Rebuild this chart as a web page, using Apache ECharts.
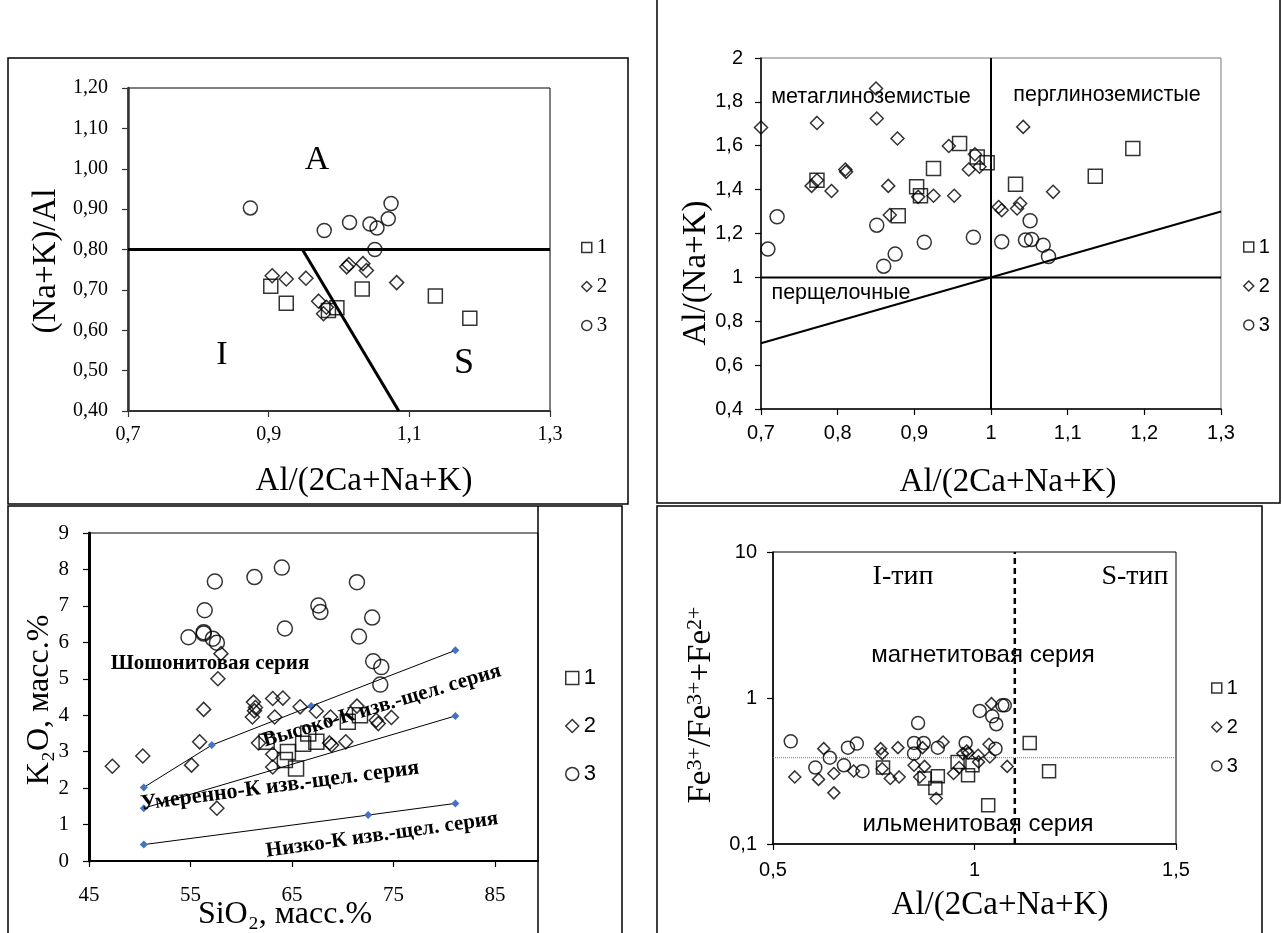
<!DOCTYPE html>
<html><head><meta charset="utf-8">
<script src="https://cdn.jsdelivr.net/npm/echarts@6/dist/echarts.min.js"></script>
<style>html,body{margin:0;padding:0;background:#fff}#c{width:1282px;height:933px}</style>
</head><body><div id="c"></div>
<script>
// ---------- Panel 1: (Na+K)/Al vs Al/(2Ca+Na+K) ----------
const p1Squares = [[0.903,0.709],[0.925,0.667],[0.985,0.649],[0.997,0.656],[1.033,0.702],[1.137,0.685],[1.186,0.630]];
const p1Diamonds = [[0.905,0.735],[0.925,0.727],[0.953,0.729],[1.011,0.757],[1.014,0.763],[1.034,0.765],[1.039,0.748],[1.082,0.718],[0.971,0.672],[0.978,0.641],[0.982,0.657]];
const p1Circles = [[0.874,0.903],[0.979,0.847],[1.015,0.867],[1.044,0.863],[1.054,0.853],[1.070,0.876],[1.074,0.914],[1.051,0.800]];
const p1LineH = [[0.7,0.8],[1.3,0.8]];
const p1LineD = [[0.948,0.8],[1.085,0.4]];
const p1XTicks = [0.7,0.9,1.1,1.3];

// ---------- Panel 2: Al/(Na+K) vs Al/(2Ca+Na+K) ----------
const p2Squares = [[0.773,1.443],[0.879,1.281],[0.903,1.413],[0.908,1.372],[0.925,1.496],[0.959,1.610],[0.982,1.549],[0.995,1.522],[1.032,1.425],[1.136,1.461],[1.185,1.587]];
const p2Diamonds = [[0.700,1.683],[0.773,1.704],[0.850,1.861],[0.851,1.724],[0.878,1.633],[0.766,1.417],[0.773,1.443],[0.792,1.394],[0.810,1.492],[0.811,1.481],[0.866,1.417],[0.868,1.284],[0.905,1.367],[0.925,1.372],[0.952,1.372],[0.945,1.599],[0.979,1.561],[0.971,1.492],[0.985,1.504],[1.042,1.686],[1.081,1.390],[1.010,1.321],[1.014,1.306],[1.034,1.314],[1.038,1.337]];
const p2Circles = [[0.721,1.276],[0.709,1.129],[0.851,1.238],[0.860,1.051],[0.875,1.106],[0.913,1.160],[0.977,1.183],[1.014,1.162],[1.051,1.258],[1.045,1.170],[1.053,1.173],[1.068,1.147],[1.075,1.095]];
const p2LineV = [[1,0.4],[1,2]];
const p2LineH = [[0.7,1],[1.3,1]];
const p2LineD = [[0.7,0.7],[1.3,1.3]];

// ---------- Panel 3: K2O vs SiO2 ----------
const p3Squares = [[62.5,3.27],[64.3,2.77],[64.6,2.99],[65.4,2.54],[66.1,3.22],[66.6,3.50],[67.4,3.27],[70.5,3.82],[71.7,4.00]];
const p3Diamonds = [[58.0,5.69],[57.7,5.00],[56.3,4.16],[55.9,3.27],[55.1,2.63],[50.3,2.88],[47.3,2.60],[57.6,1.45],[61.2,4.36],[61.4,4.21],[61.1,3.95],[61.3,4.12],[63.1,4.46],[64.1,4.47],[63.3,3.95],[65.8,4.23],[67.4,4.11],[61.7,3.24],[63.1,2.93],[63.1,2.58],[71.4,4.25],[73.3,3.86],[73.5,3.77],[74.8,3.94],[68.7,3.24],[68.9,3.18],[70.3,3.27],[68.8,3.95]];
const p3Circles = [[54.8,6.14],[56.3,6.28],[56.3,6.24],[56.4,6.88],[57.4,7.67],[57.2,6.10],[57.6,5.99],[61.3,7.79],[64.0,8.05],[64.3,6.38],[67.6,7.01],[67.8,6.83],[71.4,7.65],[72.9,6.68],[71.6,6.16],[73.0,5.48],[73.8,5.32],[73.7,4.84]];
const p3LineShosh = [[50.4,2.02],[57.1,3.18],[66.9,4.25],[81.1,5.78]];
const p3LineHighK = [[50.4,1.45],[81.1,3.98]];
const p3LineLowK = [[50.4,0.45],[72.5,1.26],[81.1,1.58]];
const p3XTicks = [45,55,65,75,85];

// ---------- Panel 4: Fe3+/(Fe3++Fe2+) vs Al/(2Ca+Na+K) ----------
const p4Squares = [[0.773,0.334],[0.876,0.281],[0.909,0.291],[0.903,0.242],[0.958,0.365],[0.984,0.296],[0.995,0.346],[1.034,0.184],[1.137,0.492],[1.185,0.315]];
const p4Diamonds = [[0.554,0.288],[0.626,0.450],[0.613,0.277],[0.651,0.304],[0.651,0.224],[0.700,0.316],[0.767,0.450],[0.771,0.416],[0.771,0.328],[0.791,0.281],[0.810,0.457],[0.813,0.288],[0.850,0.346],[0.864,0.288],[0.876,0.340],[0.871,0.457],[0.922,0.500],[0.905,0.205],[0.948,0.304],[0.962,0.334],[0.971,0.416],[0.981,0.434],[0.984,0.420],[1.009,0.405],[1.036,0.482],[1.038,0.394],[1.010,0.365],[1.042,0.915],[1.081,0.340]];
const p4Circles = [[0.544,0.505],[0.605,0.334],[0.641,0.390],[0.676,0.346],[0.686,0.457],[0.708,0.487],[0.722,0.315],[0.850,0.416],[0.850,0.492],[0.860,0.674],[0.874,0.492],[0.909,0.457],[0.978,0.492],[1.013,0.815],[1.044,0.749],[1.054,0.661],[1.069,0.891],[1.075,0.891],[1.052,0.450]];
const p4LineV = [[1.1,0.1],[1.1,10]];
const p4LineH = [[0.5,0.39],[1.5,0.39]];

const SERIF = "'Liberation Serif','Times New Roman',serif";
const SANS = "'Liberation Sans',Arial,sans-serif";
const fmt = v => String(+(+v).toFixed(2)).replace('.', ',');

function sc(name, gi, symbol, size, data) {
  return {type:'scatter', name, xAxisIndex:gi, yAxisIndex:gi, symbol, symbolSize:size, data,
    itemStyle:{color:'rgba(0,0,0,0)', borderColor:'#000', borderWidth:1.5}, z:4, silent:true};
}
function ln(gi, data, style, extra) {
  return Object.assign({type:'line', xAxisIndex:gi, yAxisIndex:gi, data, symbol:'none',
    lineStyle:style, z:3, silent:true}, extra || {});
}
function txt(text, x, y, size, family, opts) {
  opts = opts || {};
  const style = {text, fontSize:size, fontFamily:family, fontWeight:opts.bold ? 'bold' : 'normal', fill:'#000',
    textAlign:'center', textVerticalAlign:'middle', align:'center', verticalAlign:'middle'};
  if (opts.rich) style.rich = opts.rich;
  return {type:'text', x, y, rotation: opts.rot || 0, z:10, silent:true, style};
}
function frame(x, y, w, h, color, lw) {
  return {type:'rect', shape:{x, y, width:w, height:h}, z:0, silent:true,
    style:{fill:'none', stroke:color, lineWidth:lw}};
}
function axisCommon(lineColor, lineW, fontFam, fontSize, margin) {
  return {
    axisLine:{show:true, onZero:false, lineStyle:{color:lineColor, width:lineW}},
    axisTick:{show:true, inside:false, length:6, lineStyle:{color:lineColor, width:1.2}},
    axisLabel:{color:'#000', fontFamily:fontFam, fontSize, margin, formatter:fmt},
    splitLine:{show:false}
  };
}
function merge(a, b) {
  const o = Object.assign({}, a, b);
  for (const k of ['axisLine','axisTick','axisLabel']) if (a[k] && b[k]) o[k] = Object.assign({}, a[k], b[k]);
  return o;
}
function legend(prefix, left, top, gap, size, fam, fs) {
  return {
    orient:'vertical', left, top, itemGap:gap, itemWidth:size, itemHeight:size, selectedMode:false,
    data:[prefix+'1', prefix+'2', prefix+'3'],
    formatter: n => n.slice(-1),
    itemStyle:{color:'rgba(0,0,0,0)', borderColor:'#000', borderWidth:1.5},
    textStyle:{fontFamily:fam, fontSize:fs, color:'#000', padding:[0,0,0,0]}
  };
}
const supRich = {sup:{fontSize:22, fontFamily:SERIF, verticalAlign:'top', fill:'#000'}};

const option = {
  animation:false,
  backgroundColor:'#fff',
  grid:[
    {left:128, top:88, width:422, height:323, show:true, borderColor:'#000', borderWidth:1, backgroundColor:'transparent'},
    {left:761, top:58, width:460, height:351, show:true, borderColor:'#777', borderWidth:1, backgroundColor:'transparent'},
    {left:89, top:533, width:449, height:328, show:true, borderColor:'#000', borderWidth:1, backgroundColor:'transparent'},
    {left:773, top:552, width:403, height:292, show:true, borderColor:'#000', borderWidth:1, backgroundColor:'transparent'}
  ],
  xAxis:[
    merge(axisCommon('#333',2,SERIF,20,14), {gridIndex:0, type:'value', min:0.7, max:1.3,
      axisTick:{customValues:p1XTicks}, axisLabel:{customValues:p1XTicks, formatter:v=>(+v).toFixed(1).replace('.',',')}}),
    merge(axisCommon('#000',1.5,SANS,20,14), {gridIndex:1, type:'value', min:0.7, max:1.3, interval:0.1}),
    merge(axisCommon('#000',2,SERIF,21,24), {gridIndex:2, type:'value', min:45, max:89.24,
      axisTick:{customValues:p3XTicks}, axisLabel:{customValues:p3XTicks}}),
    merge(axisCommon('#000',1.5,SANS,20,16), {gridIndex:3, type:'value', min:0.5, max:1.5, interval:0.5})
  ],
  yAxis:[
    merge(axisCommon('#333',2.5,SERIF,20,20), {gridIndex:0, type:'value', min:0.4, max:1.2, interval:0.1,
      axisLabel:{formatter:v=>(+v).toFixed(2).replace('.',',')}}),
    merge(axisCommon('#000',1.5,SANS,20,18), {gridIndex:1, type:'value', min:0.4, max:2, interval:0.2}),
    merge(axisCommon('#000',3,SERIF,21,20), {gridIndex:2, type:'value', min:0, max:9, interval:1}),
    merge(axisCommon('#000',1.5,SANS,20,16), {gridIndex:3, type:'log', logBase:10, min:0.1, max:10})
  ],
  legend:[
    legend('a', 576, 232, 18, 10, SERIF, 21),
    legend('b', 1238, 232, 19, 10, SANS, 20),
    legend('c', 560, 662, 26, 13, SANS, 22),
    legend('d', 1206, 673, 19, 10, SANS, 20)
  ],
  series:[
    ln(0, p1LineH, {color:'#000', width:3}),
    ln(0, p1LineD, {color:'#000', width:3}),
    sc('a1',0,'rect',14,p1Squares), sc('a2',0,'diamond',14,p1Diamonds), sc('a3',0,'circle',14,p1Circles),

    ln(1, p2LineV, {color:'#000', width:2}),
    ln(1, p2LineH, {color:'#000', width:2}),
    ln(1, p2LineD, {color:'#000', width:2}),
    sc('b1',1,'rect',14,p2Squares), sc('b2',1,'diamond',13,p2Diamonds), sc('b3',1,'circle',14,p2Circles),

    ln(2, p3LineShosh, {color:'#000', width:1}, {symbol:'diamond', symbolSize:8, showSymbol:true, itemStyle:{color:'#4472C4'}}),
    ln(2, p3LineHighK, {color:'#000', width:1}, {symbol:'diamond', symbolSize:8, showSymbol:true, itemStyle:{color:'#4472C4'}}),
    ln(2, p3LineLowK, {color:'#000', width:1}, {symbol:'diamond', symbolSize:8, showSymbol:true, itemStyle:{color:'#4472C4'}}),
    sc('c1',2,'rect',15,p3Squares), sc('c2',2,'diamond',14,p3Diamonds), sc('c3',2,'circle',15,p3Circles),

    ln(3, p4LineV, {color:'#000', width:2.5, type:[6,4]}),
    ln(3, p4LineH, {color:'#777', width:1, type:[1,1]}),
    sc('d1',3,'rect',13,p4Squares), sc('d2',3,'diamond',12,p4Diamonds), sc('d3',3,'circle',13,p4Circles)
  ],
  graphic:[
    frame(8,58,620,446,'#000',1.5),
    frame(657,-3,623,506,'#000',1.5),
    frame(8,506,614,430,'#000',1.5),
    {type:'line', shape:{x1:538,y1:506,x2:538,y2:935}, style:{stroke:'#000', lineWidth:1.5}, silent:true},
    frame(657,506,605,430,'#000',1.5),

    // panel 1
    txt('A', 317, 160, 34, SERIF),
    txt('I', 222, 355, 34, SERIF),
    txt('S', 464, 364, 36, SERIF),
    txt('(Na+K)/Al', 46, 261, 33, SERIF, {rot:Math.PI/2}),
    txt('Al/(2Ca+Na+K)', 364, 481, 33, SERIF),

    // panel 2
    txt('метаглиноземистые', 871, 97, 21.5, SANS),
    txt('перглиноземистые', 1107, 95, 21.5, SANS),
    txt('перщелочные', 841, 293, 21.5, SANS),
    txt('Al/(Na+K)', 696, 273, 33, SERIF, {rot:Math.PI/2}),
    txt('Al/(2Ca+Na+K)', 1008, 482, 33, SERIF),

    // panel 3
    txt('Шошонитовая серия', 210, 664, 21, SERIF, {bold:true}),
    txt('Высоко-К изв.-щел. серия', 382, 706, 21, SERIF, {bold:true, rot:0.29}),
    txt('Умеренно-К изв.-щел. серия', 280, 786, 22, SERIF, {bold:true, rot:0.13}),
    txt('Низко-К изв.-щел. серия', 382, 835, 21, SERIF, {bold:true, rot:0.14}),
    txt('K₂O, масс.%', 40, 700, 32, SERIF, {rot:Math.PI/2}),
    txt('SiO₂, масс.%', 285, 915, 32, SERIF),

    // panel 4
    txt('I-тип', 903, 577, 28, SERIF),
    txt('S-тип', 1135, 577, 28, SERIF),
    txt('магнетитовая серия', 983, 655, 24, SANS),
    txt('ильменитовая серия', 978, 824, 24, SANS),
    txt('Fe{sup|3+}/Fe{sup|3+}+Fe{sup|2+}', 701, 705, 33, SERIF, {rot:Math.PI/2, rich:supRich}),
    txt('Al/(2Ca+Na+K)', 1000, 905, 33, SERIF)
  ]
};
const chart = echarts.init(document.getElementById('c'), null, {renderer:'canvas'});
chart.setOption(option);
</script></body></html>
